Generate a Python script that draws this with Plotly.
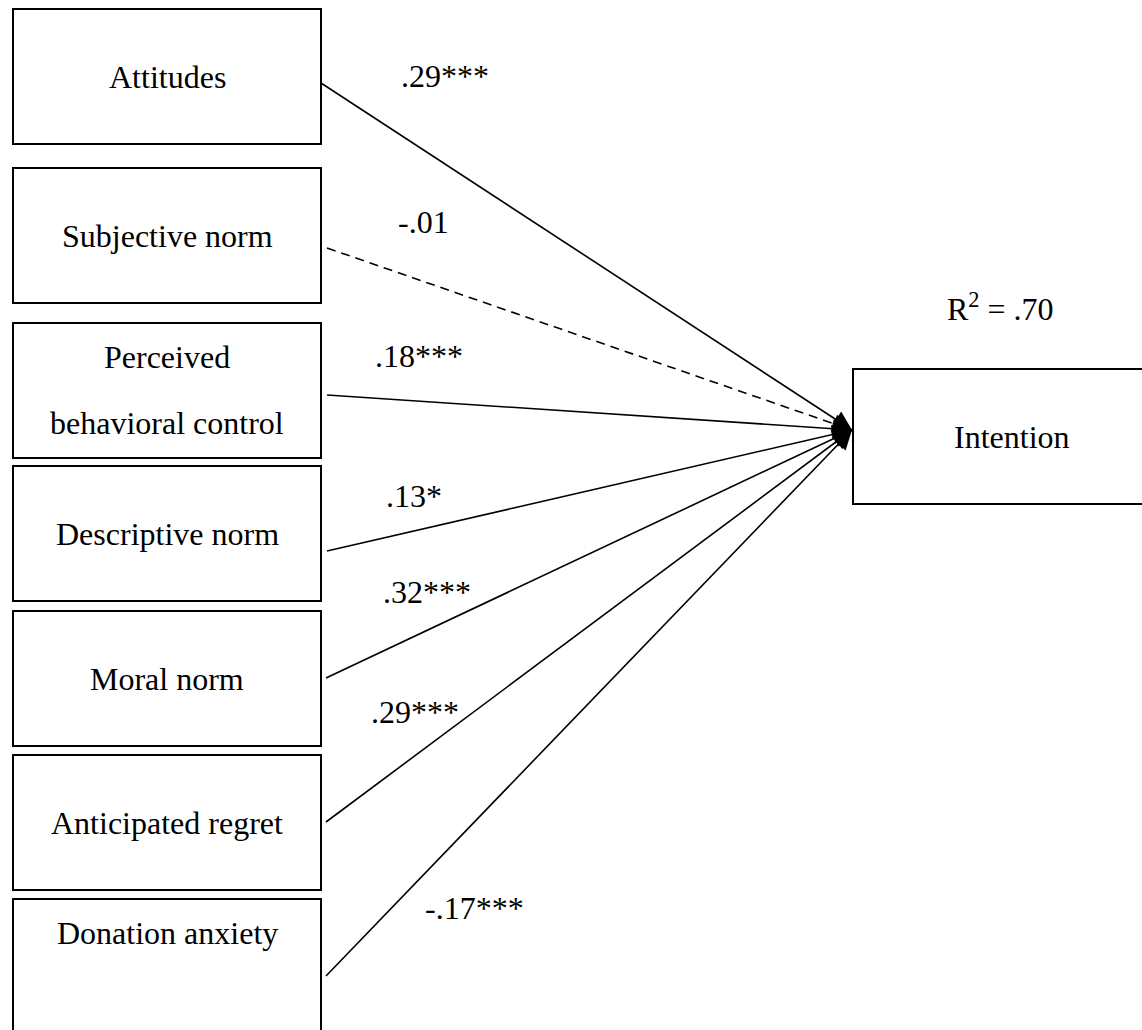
import math
import plotly.graph_objects as go

# ---- data ----
predictors = [
    ["Attitudes"],
    ["Subjective norm"],
    ["Perceived", "behavioral control"],
    ["Descriptive norm"],
    ["Moral norm"],
    ["Anticipated regret"],
    ["Donation anxiety", ""],
]
coefficients = [".29***", "-.01", ".18***", ".13*", ".32***", ".29***", "-.17***"]
significant = [True, False, True, True, True, True, True]
outcome = "Intention"
r_squared = ".70"

# ---- layout (pixel-like diagram coordinates) ----
W, H = 1142, 1030
box_left, box_right = 13, 321
box_tops = [9, 168, 323, 466, 611, 755, 899]
box_h = 135
line_starts_x = [321, 327, 327, 327, 326, 326, 326]
line_starts_y = [83, 248, 395, 551, 678, 822, 976]
label_x = [445, 423, 419, 414, 427, 415, 474]
label_y = [76, 222, 356, 496, 592, 712, 908]
tip_x, tip_y = 852, 430
out_box = (853, 369, 1170, 504)

FONT = dict(family="Liberation Serif, Times New Roman, serif", size=32, color="black")

fig = go.Figure()
shapes = []
annotations = []

for i, lines in enumerate(predictors):
    top = box_tops[i]
    shapes.append(dict(type="rect", xref="x", yref="y", x0=box_left, x1=box_right,
                       y0=top, y1=top + box_h, line=dict(color="black", width=2),
                       fillcolor="rgba(0,0,0,0)", layer="above"))
    cx = (box_left + box_right) / 2
    if len(lines) == 1:
        ys = [top + box_h / 2]
    else:
        ys = [top + 34, top + 100]
    for txt, yy in zip(lines, ys):
        if txt:
            annotations.append(dict(x=cx, y=yy, xref="x", yref="y", text=txt,
                                    showarrow=False, font=FONT,
                                    xanchor="center", yanchor="middle"))

    sx, sy = line_starts_x[i], line_starts_y[i]
    fig.add_trace(go.Scatter(
        x=[sx, tip_x], y=[sy, tip_y], mode="lines",
        line=dict(color="black", width=1.6,
                  dash="solid" if significant[i] else "9px,6px"),
        hoverinfo="skip", showlegend=False))
    dx, dy = tip_x - sx, tip_y - sy
    n = math.hypot(dx, dy)
    back = 22
    annotations.append(dict(x=tip_x, y=tip_y, ax=tip_x - dx / n * back,
                            ay=tip_y - dy / n * back, xref="x", yref="y",
                            axref="x", ayref="y", text="", showarrow=True,
                            arrowhead=2, arrowsize=2.4, arrowwidth=1.6,
                            arrowcolor="black", standoff=0, startstandoff=0))
    annotations.append(dict(x=label_x[i], y=label_y[i], xref="x", yref="y",
                            text=coefficients[i], showarrow=False, font=FONT,
                            xanchor="center", yanchor="middle"))

x0, y0, x1, y1 = out_box
shapes.append(dict(type="rect", xref="x", yref="y", x0=x0, x1=x1, y0=y0, y1=y1,
                   line=dict(color="black", width=2), fillcolor="rgba(0,0,0,0)"))
annotations.append(dict(x=(x0 + x1) / 2, y=(y0 + y1) / 2, xref="x", yref="y",
                        text=outcome, showarrow=False, font=FONT,
                        xanchor="center", yanchor="middle"))
annotations.append(dict(x=1000, y=307, xref="x", yref="y",
                        text="R<sup>2</sup> = " + r_squared, showarrow=False,
                        font=FONT, xanchor="center", yanchor="middle"))

fig.update_layout(
    width=W, height=H, margin=dict(l=0, r=0, t=0, b=0),
    paper_bgcolor="white", plot_bgcolor="white",
    xaxis=dict(range=[0, W], visible=False, fixedrange=True),
    yaxis=dict(range=[H, 0], visible=False, fixedrange=True),
    shapes=shapes, annotations=annotations, showlegend=False,
)

fig.write_html("out.html", config={"displayModeBar": False},
               post_script="document.body.style.margin='0';document.body.style.overflow='hidden';")
